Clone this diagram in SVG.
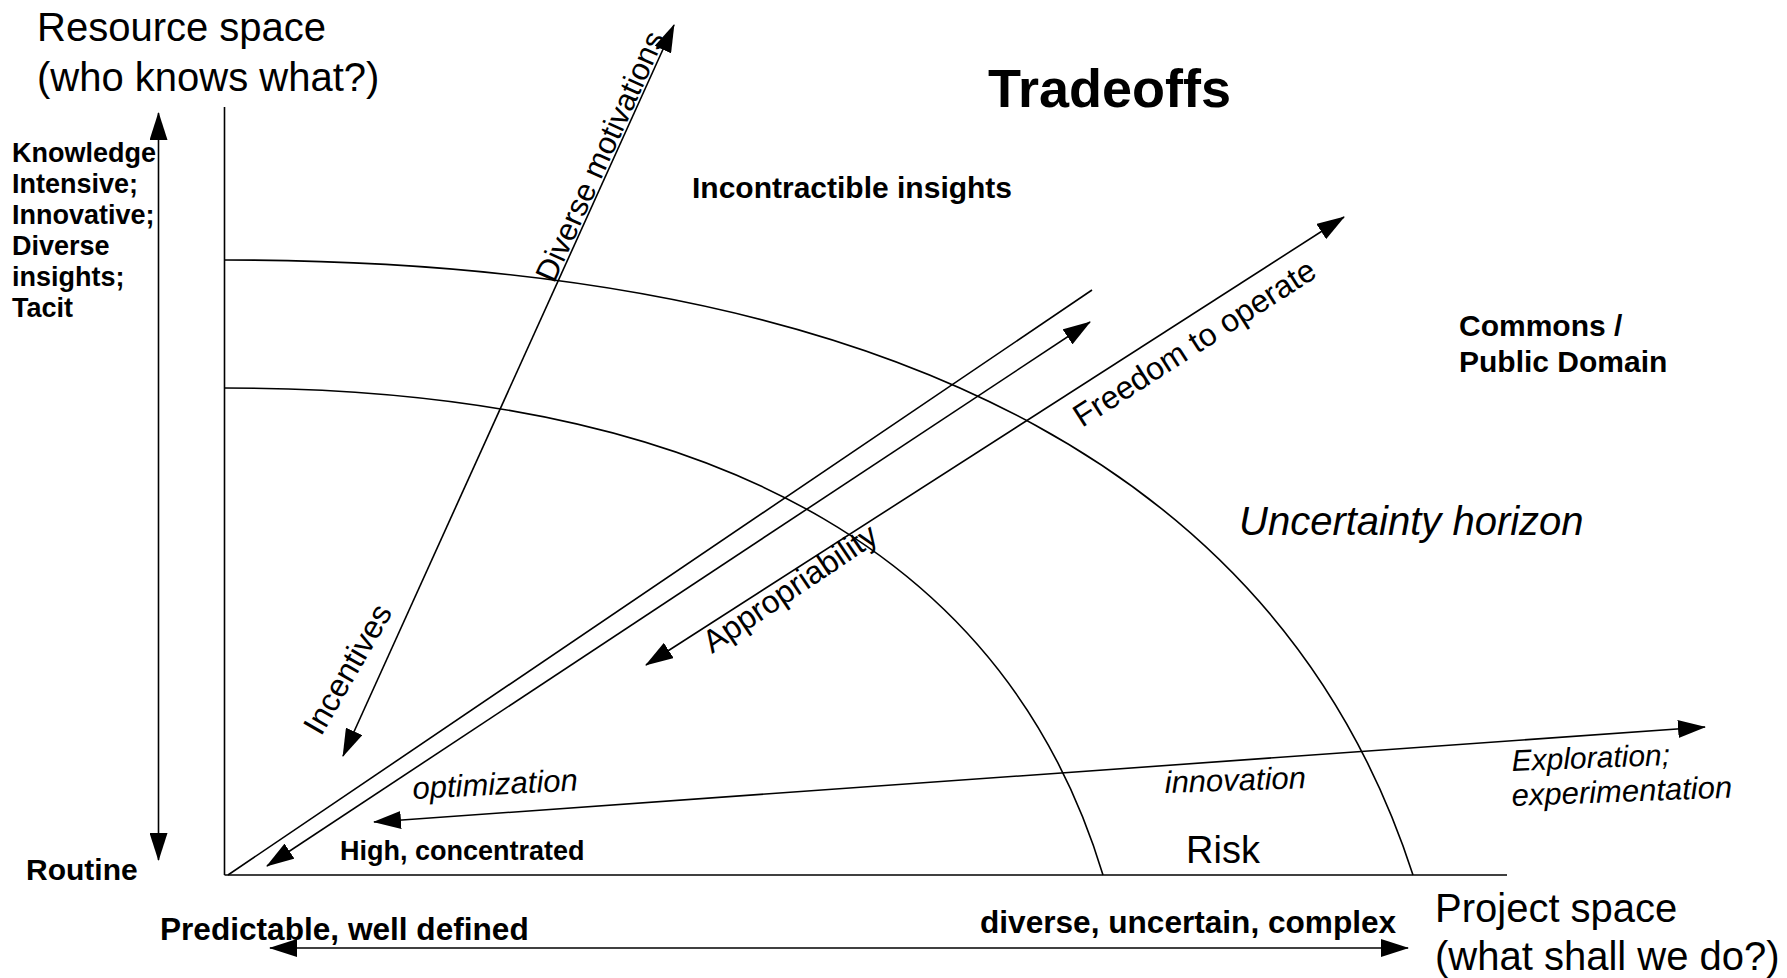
<svg xmlns="http://www.w3.org/2000/svg" width="1787" height="978" viewBox="0 0 1787 978">
<defs>
<marker id="ah" viewBox="0 0 28 18" refX="27" refY="9" markerWidth="28" markerHeight="18" markerUnits="userSpaceOnUse" orient="auto-start-reverse"><path d="M0,0 L28,9 L0,18 z" fill="#000"/></marker>
<style>
text{font-family:"Liberation Sans",Arial,Helvetica,sans-serif;fill:#000}
.big{font-size:40px}
.lab{font-size:27px;font-weight:bold}
.b30{font-size:30px;font-weight:bold}
.b31{font-size:31.6px;font-weight:bold}
.it{font-style:italic;font-size:31px}
.rot{font-size:32px}
.ln{stroke:#000;stroke-width:1.6;fill:none}
.arr{marker-start:url(#ah);marker-end:url(#ah)}
</style>
</defs>
<rect width="1787" height="978" fill="#fff"/>
<g id="connectors">
<line class="ln" x1="224.5" y1="107" x2="224.5" y2="875"/>
<line class="ln" x1="224.5" y1="875" x2="1507" y2="875"/>
<path class="ln" d="M224.5,260 C924,260 1290,495 1413,875"/>
<path class="ln" d="M224.5,388 C741,388 1012,574 1103,875"/>
<line class="ln arr" x1="158.5" y1="113" x2="158.5" y2="860"/>
<line class="ln arr" x1="270" y1="948" x2="1408" y2="948"/>
<line class="ln" x1="228" y1="875" x2="1092" y2="290"/>
<line class="ln arr" x1="267" y1="866" x2="1090" y2="322"/>
<line class="ln arr" x1="646" y1="665" x2="1344" y2="217"/>
<line class="ln arr" x1="343" y1="756" x2="674" y2="25"/>
<line class="ln arr" x1="374" y1="822" x2="1705" y2="727"/>
</g>
<g id="resource-space"><text class="big" x="37" y="41">Resource space</text><text class="big" x="37" y="91">(who knows what?)</text></g>
<g id="left-labels"><text class="lab" x="12" y="162">Knowledge</text><text class="lab" x="12" y="193">Intensive;</text><text class="lab" x="12" y="224">Innovative;</text><text class="lab" x="12" y="255">Diverse</text><text class="lab" x="12" y="286">insights;</text><text class="lab" x="12" y="317">Tacit</text></g>
<g id="routine"><text class="b30" x="26" y="880">Routine</text></g>
<g id="title"><text x="988" y="107" style="font-size:54px;font-weight:bold">Tradeoffs</text></g>
<g id="incontractible"><text class="b30" x="692" y="198">Incontractible insights</text></g>
<g id="commons"><text class="b30" x="1459" y="336">Commons /</text><text class="b30" x="1459" y="372">Public Domain</text></g>
<g id="uncertainty"><text x="1239" y="535" style="font-size:40px;font-style:italic">Uncertainty horizon</text></g>
<g id="risk"><text x="1186" y="863" style="font-size:38px">Risk</text></g>
<g id="innovation"><text class="it" x="1165" y="793" transform="rotate(-2 1165 793)">innovation</text></g>
<g id="optimization"><text class="it" x="413" y="799" transform="rotate(-3 413 799)">optimization</text></g>
<g id="exploration"><text class="it" x="1512" y="771" transform="rotate(-2.2 1512 771)" style="font-size:30px">Exploration;</text><text class="it" x="1512" y="806" transform="rotate(-2.2 1512 806)">experimentation</text></g>
<g id="high"><text class="lab" x="340" y="860">High, concentrated</text></g>
<g id="predictable"><text class="b31" x="160" y="940">Predictable, well defined</text></g>
<g id="diverse-uncertain"><text class="b31" x="980" y="933">diverse, uncertain, complex</text></g>
<g id="project-space"><text class="big" x="1435" y="922">Project space</text><text class="big" x="1435" y="970">(what shall we do?)</text></g>
<g id="diverse-motivations"><text x="554" y="284" transform="rotate(-65.7 554 284)" style="font-size:31px">Diverse motivations</text></g>
<g id="incentives"><text class="rot" x="321" y="737" transform="rotate(-60 321 737)">Incentives</text></g>
<g id="freedom"><text class="rot" x="1082" y="428" transform="rotate(-32.7 1082 428)">Freedom to operate</text></g>
<g id="appropriability"><text class="rot" x="712" y="654" transform="rotate(-34 712 654)">Appropriability</text></g>
</svg>
